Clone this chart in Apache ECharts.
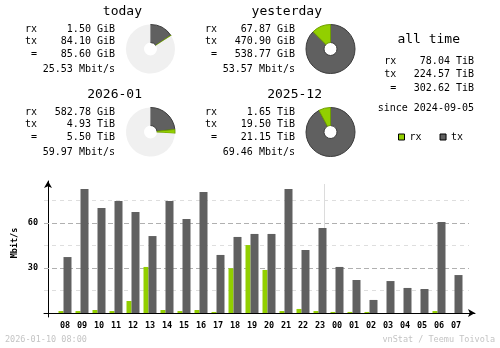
<!DOCTYPE html>
<html>
<head>
<meta charset="utf-8">
<script src="https://cdn.jsdelivr.net/npm/echarts@6/dist/echarts.min.js"></script>
<style>
  html, body { margin: 0; padding: 0; background: #fff; }
  #chart { width: 500px; height: 348px; }
</style>
</head>
<body>
<div id="chart"></div>
<script>
// Hourly average rate (Mbit/s), 2026-01-09 08:00 .. 2026-01-10 07:00
const hours  = ['08','09','10','11','12','13','14','15','16','17','18','19','20','21','22','23','00','01','02','03','04','05','06','07'];
const rxRate = [1.3, 1.3, 2.0, 1.3, 8.0, 30.7, 2.0, 1.3, 2.0, 0.7, 29.8, 45.3, 28.7, 1.3, 2.7, 1.3, 0.7, 0.7, 0.7, 0, 0, 0, 1.3, 0];
const txRate = [37.3, 82.7, 70.0, 74.7, 67.3, 51.3, 74.7, 62.7, 80.7, 38.7, 50.7, 52.7, 52.7, 82.7, 42.0, 56.7, 30.7, 22.0, 8.7, 21.3, 16.7, 16.0, 60.7, 25.3];
const dayChangeAfter = 15;            // index of hour "23"
const gridMajor = [30, 60];
const gridMinor = [15, 45, 75];

// Period summaries
const periodNames = ['today', 'yesterday', '2026-01', '2025-12'];
const rxAmount    = [1.50, 67.87, 582.78, 1.65];
const rxUnit      = ['GiB', 'GiB', 'GiB', 'TiB'];
const txAmount    = [84.10, 470.90, 4.93, 19.50];
const txUnit      = ['GiB', 'GiB', 'TiB', 'TiB'];
const totalAmount = [85.60, 538.77, 5.50, 21.15];
const totalUnit   = ['GiB', 'GiB', 'TiB', 'TiB'];
const avgRate     = [25.53, 53.57, 59.97, 69.46];
const comparedTo  = [1, null, 3, null];   // ongoing period -> finished previous period

const allTimeLabels = ['rx', 'tx', '='];
const allTimeTiB    = [78.04, 224.57, 302.62];
const sinceDate     = '2024-09-05';
const stampText     = '2026-01-10 08:00';
const creditText    = 'vnStat / Teemu Toivola';

const RX = '#92cf00', TX = '#606060', PIE_BG = '#f0f0f0';
const MONO = '"DejaVu Sans Mono", "Liberation Mono", monospace';

const toGiB = (v, u) => u === 'TiB' ? v * 1024 : v;
const fmt = (v, u) => v.toFixed(2) + ' ' + u;

// block placement (top-left offsets)
const blockDX = [0, 180, 0, 180];
const blockDY = [0, 0, 83, 83];

const graphics = [];
function txt(x, y, text, opt) {
  graphics.push({
    type: 'text', x: x, y: y, silent: true,
    rotation: (opt && opt.rotation) || 0,
    style: {
      text: text,
      font: (opt && opt.font) || ('10px ' + MONO),
      fill: (opt && opt.fill) || '#000',
      align: (opt && opt.align) || 'left',
      verticalAlign: 'middle'
    }
  });
}

const rowY = [29.3, 41.3, 54.7];
const pieSeries = [];
periodNames.forEach((name, p) => {
  const dx = blockDX[p], dy = blockDY[p];
  txt(142 + dx, 11.7 + dy, name, { font: '13px ' + MONO, align: 'right' });
  const labels = ['rx', 'tx', '='];
  const values = [fmt(rxAmount[p], rxUnit[p]), fmt(txAmount[p], txUnit[p]), fmt(totalAmount[p], totalUnit[p])];
  labels.forEach((l, r) => {
    txt(37 + dx, rowY[r] + dy, l, { align: 'right' });
    txt(115 + dx, rowY[r] + dy, values[r], { align: 'right' });
  });
  txt(115 + dx, 69.3 + dy, avgRate[p].toFixed(2) + ' Mbit/s', { align: 'right' });

  const rxG = toGiB(rxAmount[p], rxUnit[p]);
  const txG = toGiB(txAmount[p], txUnit[p]);
  const data = [
    { name: 'tx', value: txG, itemStyle: { color: TX, borderColor: '#3c3c3c', borderWidth: 1 } },
    { name: 'rx', value: rxG, itemStyle: { color: RX, borderColor: '#6f9e00', borderWidth: 1 } }
  ];
  if (comparedTo[p] !== null) {
    const q = comparedTo[p];
    const prev = toGiB(totalAmount[q], totalUnit[q]);
    const cur = toGiB(totalAmount[p], totalUnit[p]);
    data.push({ name: 'rest', value: prev - cur, itemStyle: { color: PIE_BG, borderWidth: 0 } });
  }
  pieSeries.push({
    type: 'pie',
    center: [150.5 + dx, 49 + dy],
    radius: [6.5, 24.5],
    startAngle: 90,
    clockwise: true,
    silent: true,
    label: { show: false },
    labelLine: { show: false },
    emphasis: { disabled: true },
    data: data
  });
});

// all time block
txt(428.7, 39.3, 'all time', { font: '13px ' + MONO, align: 'center' });
const allY = [61.7, 74, 88.3];
allTimeLabels.forEach((l, r) => {
  txt(396.3, allY[r], l, { align: 'right' });
  txt(474, allY[r], fmt(allTimeTiB[r], 'TiB'), { align: 'right' });
});
txt(474, 108.3, 'since ' + sinceDate, { align: 'right' });

// footer and axis name
txt(5, 340, stampText, { font: '8.5px ' + MONO, fill: '#c4c4c4' });
txt(495, 340, creditText, { font: '8.5px ' + MONO, fill: '#c4c4c4', align: 'right' });
txt(14.5, 243, 'Mbit/s', { font: 'bold 8.5px ' + MONO, align: 'center', rotation: Math.PI / 2 });

// hourly chart scales: 17 px per hour, 1.5 px per Mbit/s
const xMin = -4 / 17, xMax = 427 / 17, xGridEnd = 25;
const yMin = -4 / 1.5, yMax = 88, dayLineTop = 86;

const refLines = [];
gridMinor.forEach(v => refLines.push([
  { coord: [0, v], lineStyle: { color: '#dedede', type: [4, 4], width: 1 } },
  { coord: [xGridEnd, v] }
]));
gridMajor.forEach(v => refLines.push([
  { coord: [0, v], lineStyle: { color: '#b0b0b0', type: [5, 3], width: 1 } },
  { coord: [xGridEnd, v] }
]));
refLines.push([
  { coord: [dayChangeAfter + 1.5, 0], lineStyle: { color: '#dcdcdc', type: 'solid', width: 1 } },
  { coord: [dayChangeAfter + 1.5, dayLineTop] }
]);

const chart = echarts.init(document.getElementById('chart'), null, { renderer: 'canvas' });
chart.setOption({
  animation: false,
  backgroundColor: '#fff',
  grid: { left: 44, top: 181, width: (xMax - xMin) * 17, height: (yMax - yMin) * 1.5, containLabel: false },
  legend: {
    data: ['rx', 'tx'],
    left: 398, top: 132,
    padding: 0,
    icon: 'rect',
    itemWidth: 6, itemHeight: 6, itemGap: 18,
    selectedMode: false,
    itemStyle: { borderColor: '#000', borderWidth: 1 },
    textStyle: { fontFamily: MONO, fontSize: 10, color: '#000' }
  },
  xAxis: {
    type: 'value', min: xMin, max: xMax,
    axisLine: { onZero: true, symbol: ['none', 'arrow'], symbolSize: [6, 7], lineStyle: { color: '#000', width: 1 } },
    axisTick: { show: false },
    splitLine: { show: false },
    axisLabel: {
      customValues: hours.map((h, i) => i + 1),
      formatter: v => hours[Math.round(v) - 1] || '',
      margin: 4,
      fontFamily: MONO, fontSize: 8.5, fontWeight: 'bold', color: '#000'
    }
  },
  yAxis: {
    type: 'value', min: yMin, max: yMax,
    axisLine: { onZero: true, symbol: ['none', 'arrow'], symbolSize: [6, 7], lineStyle: { color: '#000', width: 1 } },
    axisTick: { show: false },
    splitLine: { show: false },
    axisLabel: {
      customValues: gridMajor,
      margin: 6,
      fontFamily: MONO, fontSize: 8.5, fontWeight: 'bold', color: '#000'
    }
  },
  graphic: graphics,
  series: [
    {
      name: 'rx', type: 'bar', barWidth: 5, barGap: 0, z: 3,
      itemStyle: { color: RX },
      data: rxRate.map((v, i) => [i + 1, v]),
      markLine: { silent: true, symbol: 'none', z: 1, label: { show: false }, data: refLines }
    },
    {
      name: 'tx', type: 'bar', barWidth: 8, barGap: 0, z: 3,
      itemStyle: { color: TX },
      data: txRate.map((v, i) => [i + 1, v])
    }
  ].concat(pieSeries)
});
</script>
</body>
</html>
